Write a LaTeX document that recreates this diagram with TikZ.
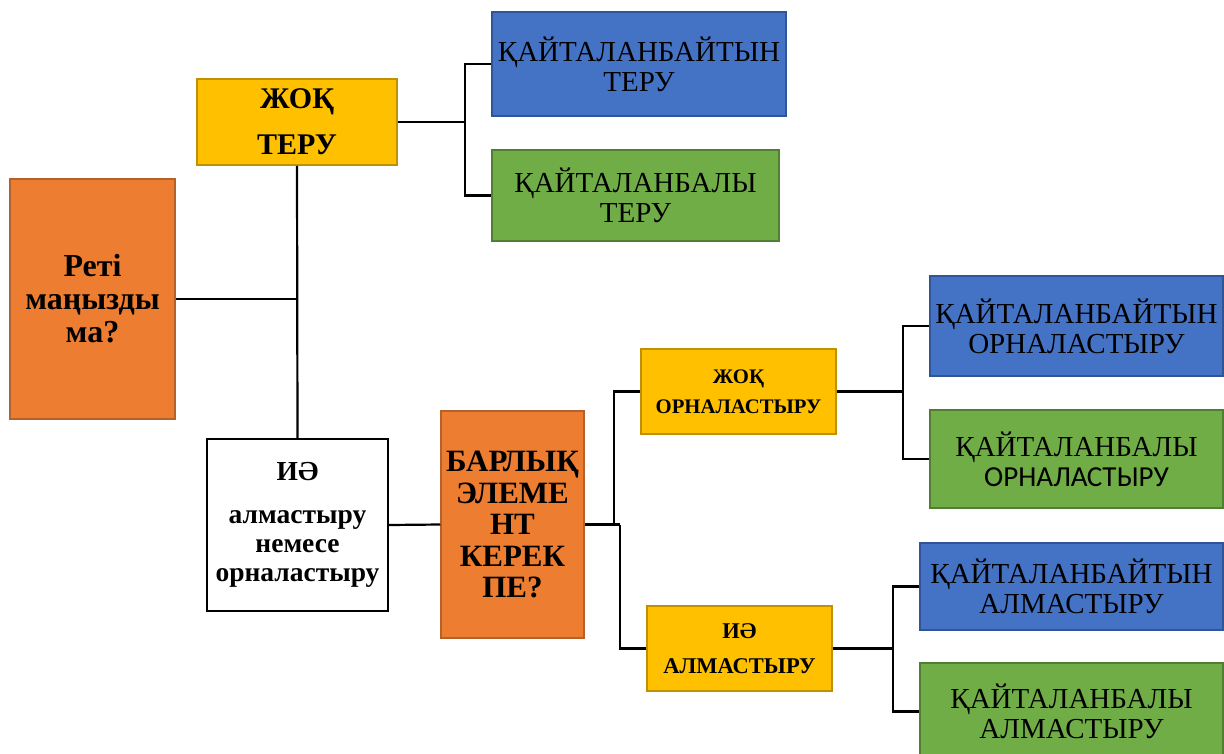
\documentclass[tikz,border=0pt]{standalone}
\usepackage{fontspec}
\setmainfont{Liberation Serif}
\newfontfamily\calibri{Carlito}
\definecolor{cOrange}{HTML}{ED7D31}
\definecolor{cOrangeD}{HTML}{B5622A}
\definecolor{cYellow}{HTML}{FFC000}
\definecolor{cYellowD}{HTML}{BF9000}
\definecolor{cBlue}{HTML}{4472C4}
\definecolor{cBlueD}{HTML}{2F5597}
\definecolor{cGreen}{HTML}{70AD47}
\definecolor{cGreenD}{HTML}{507E32}
\begin{document}
\begin{tikzpicture}[x=1pt,y=-1pt,
  box/.style={rectangle, inner sep=0pt, align=center, line width=1.5pt},
  orangebox/.style={box, fill=cOrange, draw=cOrangeD},
  yellowbox/.style={box, fill=cYellow, draw=cYellowD},
  bluebox/.style={box, fill=cBlue, draw=cBlueD},
  greenbox/.style={box, fill=cGreen, draw=cGreenD},
  whitebox/.style={box, fill=white, draw=black, line width=2pt},
  reg/.style={font=\fontsize{29}{30}\selectfont},
  wire/.style={line width=2.2pt, draw=black}]
\useasboundingbox (0,0) rectangle (1224,753);

\node[orangebox, minimum width=165pt, minimum height=240pt,
  font=\bfseries\fontsize{32}{33}\selectfont] (reti) at (92.5,299) {Реті\\маңызды\\ма?};
\node[yellowbox, minimum width=200pt, minimum height=86pt,
  font=\bfseries\fontsize{30}{32}\selectfont] (zhok) at (297,122) {ЖОҚ\\[14pt]ТЕРУ};
\node[bluebox, reg, minimum width=294pt, minimum height=104pt] (b1) at (639,64) {ҚАЙТАЛАНБАЙТЫН\\ТЕРУ};
\node[greenbox, reg, minimum width=287pt, minimum height=91pt] (g1) at (635.5,195.5) {ҚАЙТАЛАНБАЛЫ\\ТЕРУ};
\node[whitebox, minimum width=181pt, minimum height=172pt,
  font=\bfseries\fontsize{27.5}{29}\selectfont] (ie) at (297.5,525) {ИӘ\\[14pt]алмастыру\\немесе\\орналастыру};
\node[orangebox, minimum width=143pt, minimum height=227pt,
  font=\bfseries\fontsize{31}{31.5}\selectfont] (barlyk) at (512.5,524.5) {БАРЛЫҚ\\ЭЛЕМЕ\\НТ\\КЕРЕК\\ПЕ?};
\node[yellowbox, minimum width=195pt, minimum height=85pt,
  font=\bfseries\fontsize{20.7}{23}\selectfont] (zorn) at (738.5,391.5) {ЖОҚ\\[7pt]ОРНАЛАСТЫРУ};
\node[yellowbox, minimum width=185pt, minimum height=85pt,
  font=\bfseries\fontsize{22.5}{25}\selectfont] (ialm) at (739.5,648.5) {ИӘ\\[10pt]АЛМАСТЫРУ};
\node[bluebox, reg, minimum width=293pt, minimum height=100pt] (b2) at (1076.5,326) {ҚАЙТАЛАНБАЙТЫН\\ОРНАЛАСТЫРУ};
\node[greenbox, reg, minimum width=293pt, minimum height=98pt] (g2) at (1076.5,459) {ҚАЙТАЛАНБАЛЫ\\{\calibri ОРНАЛАСТЫРУ}};
\node[bluebox, reg, minimum width=303pt, minimum height=87pt] (b3) at (1071.5,586.5) {ҚАЙТАЛАНБАЙТЫН\\АЛМАСТЫРУ};
\node[greenbox, reg, minimum width=303pt, minimum height=97pt] (g3) at (1071.5,711.5) {ҚАЙТАЛАНБАЛЫ\\АЛМАСТЫРУ};

\coordinate (j1) at (465,122);
\coordinate (j2) at (614,524.5);
\coordinate (j3) at (620,524.5);
\coordinate (j4) at (903,391.5);
\coordinate (j5) at (893,648.5);

\draw[wire] (reti.east) -- (reti.east -| zhok.south);
\draw[wire] (zhok.south) -- (ie.north);
\draw[wire] (zhok.east) -- (j1);
\draw[wire] (b1.west) -| (j1) |- (g1.west);
\draw[wire] (ie.east) -- (barlyk.west);
\draw[wire] (barlyk.east) -- (j3);
\draw[wire] (j2) |- (zorn.west);
\draw[wire] (j3) |- (ialm.west);
\draw[wire] (zorn.east) -- (j4);
\draw[wire] (b2.west) -| (j4) |- (g2.west);
\draw[wire] (ialm.east) -- (j5);
\draw[wire] (b3.west) -| (j5) |- (g3.west);
\end{tikzpicture}
\end{document}
